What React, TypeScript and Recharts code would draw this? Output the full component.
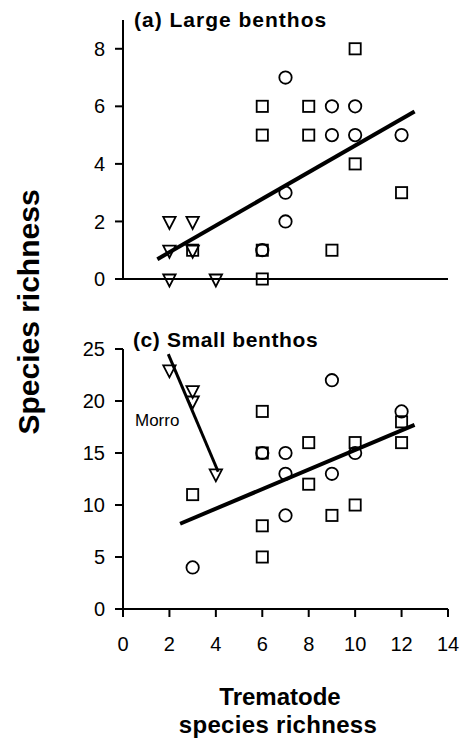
import React from "react";
import { ScatterChart, Scatter, XAxis, YAxis, ReferenceLine } from "recharts";

// Shared axis ticks
const xTicks = [0, 2, 4, 6, 8, 10, 12, 14];
const largeTicks = [0, 2, 4, 6, 8];
const smallTicks = [0, 5, 10, 15, 20, 25];

// (a) Large benthos
const largeCircleX = [6, 7, 7, 7, 9, 9, 10, 10, 12];
const largeCircleY = [1, 7, 3, 2, 6, 5, 6, 5, 5];
const largeSquareX = [3, 6, 6, 6, 6, 8, 8, 9, 10, 10, 12];
const largeSquareY = [1, 6, 5, 1, 0, 6, 5, 1, 8, 4, 3];
const largeTriangleX = [2, 3, 2, 3, 2, 4];
const largeTriangleY = [2, 2, 1, 1, 0, 0];
const largeFitX = [1.48, 12.56];
const largeFitY = [0.69, 5.82];

// (c) Small benthos
const smallCircleX = [3, 6, 7, 7, 7, 9, 9, 10, 12];
const smallCircleY = [4, 15, 15, 13, 9, 22, 13, 15, 19];
const smallSquareX = [3, 6, 6, 6, 6, 8, 8, 9, 10, 10, 12, 12];
const smallSquareY = [11, 19, 15, 8, 5, 16, 12, 9, 16, 10, 18, 16];
const smallTriangleX = [2, 3, 3, 4];
const smallTriangleY = [23, 21, 20, 13];
const smallFitX = [2.46, 12.56];
const smallFitY = [8.2, 17.7];
const morroFitX = [1.95, 4.1];
const morroFitY = [24.5, 13.2];

const zip = (xs: number[], ys: number[]) => xs.map((x, i) => ({ x, y: ys[i] }));
const seg = (xs: number[], ys: number[]) => [
  { x: xs[0], y: ys[0] },
  { x: xs[1], y: ys[1] },
];

const FONT = "'Liberation Sans', Arial, Helvetica, sans-serif";
const INK = "#000";
const SW = 1.8;

const CircleMark = (p: any) => (
  <circle cx={p.cx} cy={p.cy} r={6.2} fill="none" stroke={INK} strokeWidth={SW} />
);
const SquareMark = (p: any) => (
  <rect x={p.cx - 5.6} y={p.cy - 5.6} width={11.2} height={11.2} fill="none" stroke={INK} strokeWidth={SW} />
);
const TriangleMark = (p: any) => (
  <path
    d={`M${p.cx - 6.2},${p.cy - 4.5} L${p.cx + 6.2},${p.cy - 4.5} L${p.cx},${p.cy + 7.5} Z`}
    fill="none"
    stroke={INK}
    strokeWidth={SW}
    strokeLinejoin="miter"
  />
);

const axisStyle = { stroke: INK, strokeWidth: 2 };
const tickStyle = { fontSize: 20, fill: INK, fontFamily: FONT };

export default function App() {
  return (
    <div style={{ position: "absolute", left: 0, top: 0, width: 462, height: 742, background: "#fff" }}>
      {/* (a) Large benthos */}
      <div style={{ position: "absolute", left: 0, top: 0 }}>
        <ScatterChart width={462} height={310} margin={{ top: 20, right: 14, bottom: 1, left: 63 }}>
          <XAxis
            type="number"
            dataKey="x"
            domain={[0, 14]}
            ticks={xTicks}
            tick={false}
            height={30}
            tickSize={8}
            axisLine={axisStyle}
            tickLine={axisStyle}
          />
          <YAxis
            type="number"
            dataKey="y"
            domain={[0, 9]}
            ticks={largeTicks}
            width={60}
            tickSize={8}
            tickMargin={10}
            axisLine={axisStyle}
            tickLine={axisStyle}
            tick={tickStyle}
          />
          <Scatter data={zip(largeSquareX, largeSquareY)} shape={SquareMark} isAnimationActive={false} />
          <Scatter data={zip(largeCircleX, largeCircleY)} shape={CircleMark} isAnimationActive={false} />
          <Scatter data={zip(largeTriangleX, largeTriangleY)} shape={TriangleMark} isAnimationActive={false} />
          <ReferenceLine segment={seg(largeFitX, largeFitY)} stroke={INK} strokeWidth={4} ifOverflow="visible" />
        </ScatterChart>
      </div>

      {/* (c) Small benthos */}
      <div style={{ position: "absolute", left: 0, top: 320 }}>
        <ScatterChart width={462} height={355} margin={{ top: 29, right: 14, bottom: 20, left: 63 }}>
          <XAxis
            type="number"
            dataKey="x"
            domain={[0, 14]}
            ticks={xTicks}
            height={46}
            tickSize={8}
            tickMargin={20}
            axisLine={axisStyle}
            tickLine={axisStyle}
            tick={tickStyle}
          />
          <YAxis
            type="number"
            dataKey="y"
            domain={[0, 25]}
            ticks={smallTicks}
            width={60}
            tickSize={8}
            tickMargin={10}
            axisLine={axisStyle}
            tickLine={axisStyle}
            tick={tickStyle}
          />
          <Scatter data={zip(smallSquareX, smallSquareY)} shape={SquareMark} isAnimationActive={false} />
          <Scatter data={zip(smallCircleX, smallCircleY)} shape={CircleMark} isAnimationActive={false} />
          <Scatter data={zip(smallTriangleX, smallTriangleY)} shape={TriangleMark} isAnimationActive={false} />
          <ReferenceLine segment={seg(smallFitX, smallFitY)} stroke={INK} strokeWidth={4} ifOverflow="visible" />
          <ReferenceLine segment={seg(morroFitX, morroFitY)} stroke={INK} strokeWidth={3} ifOverflow="visible" />
        </ScatterChart>
      </div>

      {/* Panel titles and shared axis titles */}
      <svg
        width={462}
        height={742}
        style={{ position: "absolute", left: 0, top: 0, pointerEvents: "none" }}
      >
        <text x={134} y={27} fontFamily={FONT} fontWeight="bold" fontSize={21} letterSpacing={1} fill={INK}>
          (a) Large benthos
        </text>
        <text x={133} y={347} fontFamily={FONT} fontWeight="bold" fontSize={21} letterSpacing={0.6} fill={INK}>
          (c) Small benthos
        </text>
        <text x={135} y={426} fontFamily={FONT} fontSize={17} fill={INK}>
          Morro
        </text>
        <text
          x={38.5}
          y={312}
          transform="rotate(-90 38.5 312)"
          textAnchor="middle"
          fontFamily={FONT}
          fontWeight="bold"
          fontSize={30}
          fill={INK}
        >
          Species richness
        </text>
        <text x={280} y={705} textAnchor="middle" fontFamily={FONT} fontWeight="bold" fontSize={24} fill={INK}>
          Trematode
        </text>
        <text x={278} y={733} textAnchor="middle" fontFamily={FONT} fontWeight="bold" fontSize={24} letterSpacing={0.3} fill={INK}>
          species richness
        </text>
      </svg>
    </div>
  );
}
